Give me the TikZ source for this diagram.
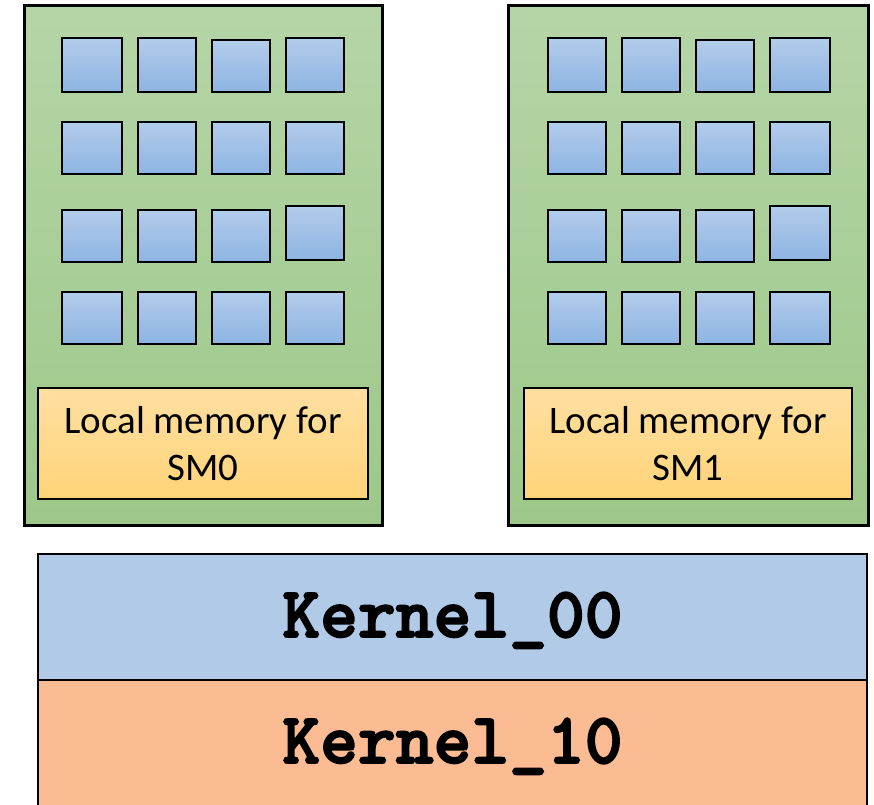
\documentclass[tikz,border=0pt]{standalone}
\usepackage{fontspec}
\setmainfont{Carlito}
\newfontfamily\kernelfont{lmmonolt10-bold}[Extension=.otf, FakeBold=2.5]

\definecolor{smtop}{HTML}{B5D5A7}
\definecolor{smbot}{HTML}{9DC889}
\definecolor{coretop}{HTML}{B3CCEB}
\definecolor{corebot}{HTML}{8DB4E2}
\definecolor{memtop}{HTML}{FFDFA1}
\definecolor{membot}{HTML}{FFD478}
\definecolor{kblue}{HTML}{B0CAE8}
\definecolor{korange}{HTML}{FBBB93}

\tikzset{
  smbox/.style={draw=black, line width=3bp, top color=smtop, bottom color=smbot,
    inner sep=0pt, outer sep=0pt, anchor=north west},
  corebox/.style={draw=black, line width=2.6bp, top color=coretop, bottom color=corebot,
    inner sep=0pt, outer sep=0pt},
  membox/.style={draw=black, line width=2bp, top color=memtop, bottom color=membot,
    inner sep=0pt, outer sep=0pt, anchor=north west, align=center,
    font=\fontsize{39bp}{47bp}\selectfont},
  kernbox/.style={draw=black, line width=2bp, inner sep=0pt, outer sep=0pt,
    anchor=north west, text height=40bp, text depth=0bp,
    font=\kernelfont\fontsize{72bp}{72bp}\selectfont},
}

\begin{document}
\begin{tikzpicture}[x=1bp, y=-1bp]
\useasboundingbox (0,0) rectangle (874,805);
\clip (0,0) rectangle (874,805);

% streaming multiprocessors
\node[smbox, minimum width=358bp, minimum height=519bp] (sm0) at (24,6) {};
\node[smbox, minimum width=360bp, minimum height=519bp] (sm1) at (508,6) {};

% cores of SM0 and SM1 (name / left / top / right / bottom)
\foreach \nm/\xa/\ya/\xb/\yb in {
  a11/62/38/122/92,   a12/138/38/196/92,   a13/212/40/270/92,   a14/286/38/344/92,
  a21/62/122/122/174, a22/138/122/196/174, a23/212/122/270/174, a24/286/122/344/174,
  a31/62/210/122/262, a32/138/210/196/262, a33/212/210/270/262, a34/286/206/344/260,
  a41/62/292/122/344, a42/138/292/196/344, a43/212/292/270/344, a44/286/292/344/344,
  b11/548/38/606/92,   b12/622/38/680/92,   b13/696/40/754/92,   b14/770/38/830/92,
  b21/548/122/606/174, b22/622/122/680/174, b23/696/122/754/174, b24/770/122/830/174,
  b31/548/210/606/262, b32/622/210/680/262, b33/696/210/754/262, b34/770/206/830/260,
  b41/548/292/606/344, b42/622/292/680/344, b43/696/292/754/344, b44/770/292/830/344}
  \node[corebox, minimum width={(\xb-\xa)*1bp}, minimum height={(\yb-\ya)*1bp}]
    (\nm) at ({(\xa+\xb)/2}, {(\ya+\yb)/2}) {};

% local memories
\node[membox, minimum width=330bp, minimum height=111bp] (mem0) at (38,388)
  {Local memory for\\SM0};
\node[membox, minimum width=328bp, minimum height=111bp] (mem1) at (524,388)
  {Local memory for\\SM1};

% kernels
\node[kernbox, fill=kblue, minimum width=829bp, minimum height=126bp] (k0) at (38,554)
  {Kernel\_00};
\node[kernbox, fill=korange, minimum width=829bp, minimum height=132bp,
  text height=34bp] (k1) at (38,680) {Kernel\_10};
\end{tikzpicture}
\end{document}
